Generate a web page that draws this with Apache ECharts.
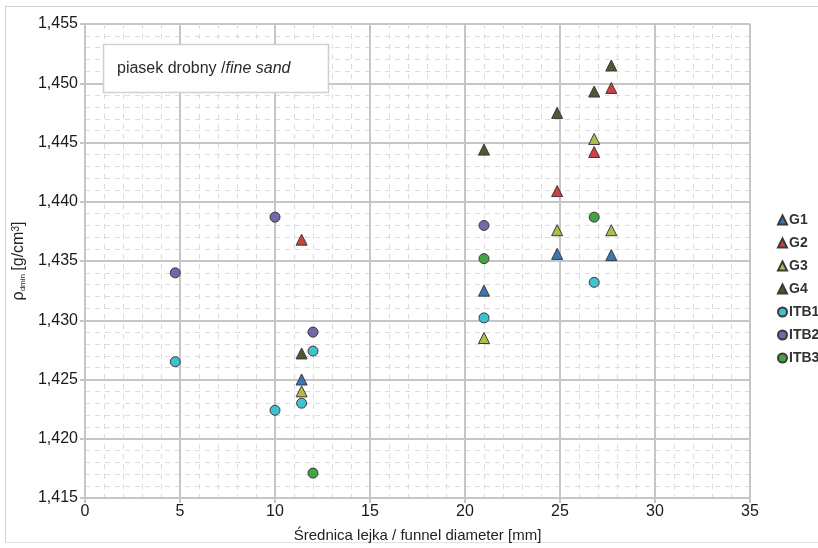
<!DOCTYPE html>
<html lang="pl">

<head>
    <meta charset="UTF-8">
    <title></title>
    <script src="https://cdn.jsdelivr.net/npm/echarts@6/dist/echarts.min.js"></script>
    <style>
        html, body {
            margin: 0;
            padding: 0;
            background-color: white;
        }

        #main {
            width: 818px;
            height: 548px;
        }
    </style>
</head>

<body>
    <div id="main"></div>

    <script>
        // punkty [średnica lejka mm, rho_dmin g/cm3]
        var g1 = [[11.4, 1.4250], [21, 1.4325], [24.85, 1.4356], [27.7, 1.4355]];
        var g2 = [[11.4, 1.4368], [24.85, 1.4409], [26.8, 1.4442], [27.7, 1.4496]];
        var g3 = [[11.4, 1.4240], [21, 1.4285], [24.85, 1.4376], [26.8, 1.4453], [27.7, 1.4376]];
        var g4 = [[11.4, 1.4272], [21, 1.4444], [24.85, 1.4475], [26.8, 1.4493], [27.7, 1.4515]];
        var itb1 = [[4.75, 1.4265], [10, 1.4224], [11.4, 1.4230], [12, 1.4274], [21, 1.4302], [26.8, 1.4332]];
        var itb2 = [[4.75, 1.4340], [10, 1.4387], [12, 1.4290], [21, 1.4380]];
        var itb3 = [[12, 1.4171], [21, 1.4352], [26.8, 1.4387]];

        var names = ['G1', 'G2', 'G3', 'G4', 'ITB1', 'ITB2', 'ITB3'];
        var colors = ['#3a77b3', '#d2403e', '#b3bb4c', '#55552f', '#3fc1cf', '#7766a8', '#45a345'];
        var shapes = ['triangle', 'triangle', 'triangle', 'triangle', 'circle', 'circle', 'circle'];
        var allData = [g1, g2, g3, g4, itb1, itb2, itb3];

        var xMin = 0, xMax = 35, xStep = 5;
        var yMin = 1.415, yMax = 1.455, yStep = 0.005;

        var myChart = echarts.init(document.getElementById('main'));

        var series = [];
        for (var i = 0; i < names.length; i++) {
            series.push({
                name: names[i],
                type: 'scatter',
                symbol: shapes[i],
                symbolSize: shapes[i] == 'circle' ? 10 : 11,
                data: allData[i],
                itemStyle: {
                    color: colors[i],
                    borderColor: '#3a3a3a',
                    borderWidth: 1,
                    opacity: 1
                },
                z: 3
            });
        }

        var gridColor = '#c6c6c6';
        var minorColor = '#dcdcdc';

        myChart.setOption({
            backgroundColor: '#fff',
            animation: false,
            textStyle: { fontFamily: 'Liberation Sans, Arial, sans-serif' },
            grid: { left: 85, right: 68, top: 24, bottom: 47 },
            legend: {
                orient: 'vertical',
                left: 772,
                top: 208,
                itemWidth: 9,
                itemHeight: 9,
                itemGap: 9,
                textStyle: { fontSize: 14, fontWeight: 'bold', color: '#333', padding: [0, 0, 0, -3] },
                data: names
            },
            xAxis: {
                type: 'value',
                min: xMin,
                max: xMax,
                interval: xStep,
                name: 'Średnica lejka / funnel diameter [mm]',
                nameLocation: 'middle',
                nameGap: 30,
                nameTextStyle: { fontSize: 15, color: '#222' },
                axisLine: { lineStyle: { color: gridColor, width: 2 } },
                axisTick: { show: true, length: 5, lineStyle: { color: gridColor, width: 2 } },
                axisLabel: { fontSize: 16, color: '#1a1a1a', margin: 6 },
                splitLine: { lineStyle: { color: gridColor, width: 2 } },
                minorTick: { show: false, splitNumber: 5 },
                minorSplitLine: { show: true, lineStyle: { color: minorColor, width: 1, type: [5, 5] } }
            },
            yAxis: {
                type: 'value',
                min: yMin,
                max: yMax,
                interval: yStep,
                name: '{n|ρ}{sub|dmin} {n|[g/cm}{sup|3}{n|]}',
                nameLocation: 'middle',
                nameRotate: 90,
                nameGap: 56,
                nameTextStyle: {
                    color: '#222',
                    rich: {
                        n: { fontSize: 16, color: '#222' },
                        sub: { fontSize: 8, color: '#222', verticalAlign: 'bottom', padding: [6, 0, 0, 0] },
                        sup: { fontSize: 10, color: '#222', verticalAlign: 'top', padding: [0, 0, 6, 0] }
                    }
                },
                axisLine: { show: true, lineStyle: { color: gridColor, width: 2 } },
                axisTick: { show: true, length: 5, lineStyle: { color: gridColor, width: 2 } },
                axisLabel: {
                    fontSize: 16,
                    color: '#1a1a1a',
                    margin: 7,
                    formatter: function (v) { return v.toFixed(3).replace('.', ','); }
                },
                splitLine: { lineStyle: { color: gridColor, width: 2 } },
                minorTick: { show: false, splitNumber: 5 },
                minorSplitLine: { show: true, lineStyle: { color: minorColor, width: 1, type: [5, 5] } }
            },
            graphic: [
                // ramka obrazka
                { type: 'line', shape: { x1: 5.5, y1: 6, x2: 5.5, y2: 542 }, style: { stroke: '#cfcfcf', lineWidth: 1 } },
                { type: 'line', shape: { x1: 5, y1: 6.5, x2: 818, y2: 6.5 }, style: { stroke: '#cfcfcf', lineWidth: 1 } },
                { type: 'line', shape: { x1: 5, y1: 542.5, x2: 818, y2: 542.5 }, style: { stroke: '#e4e4e4', lineWidth: 1 } },
                // opis
                {
                    type: 'rect',
                    shape: { x: 103.5, y: 44.5, width: 225, height: 48 },
                    style: { fill: '#fff', stroke: '#d0d0d0', lineWidth: 1.5 },
                    z: 10
                },
                {
                    type: 'text',
                    x: 117,
                    y: 69,
                    z: 11,
                    style: {
                        text: '{a|piasek drobny /}{b|fine sand}',
                        verticalAlign: 'middle',
                        rich: {
                            a: { fontSize: 16, fill: '#2a2a2a', fontFamily: 'Liberation Sans, Arial, sans-serif' },
                            b: { fontSize: 16, fill: '#2a2a2a', fontStyle: 'italic', fontFamily: 'Liberation Sans, Arial, sans-serif' }
                        }
                    }
                }
            ],
            series: series
        });
    </script>
</body>

</html>
